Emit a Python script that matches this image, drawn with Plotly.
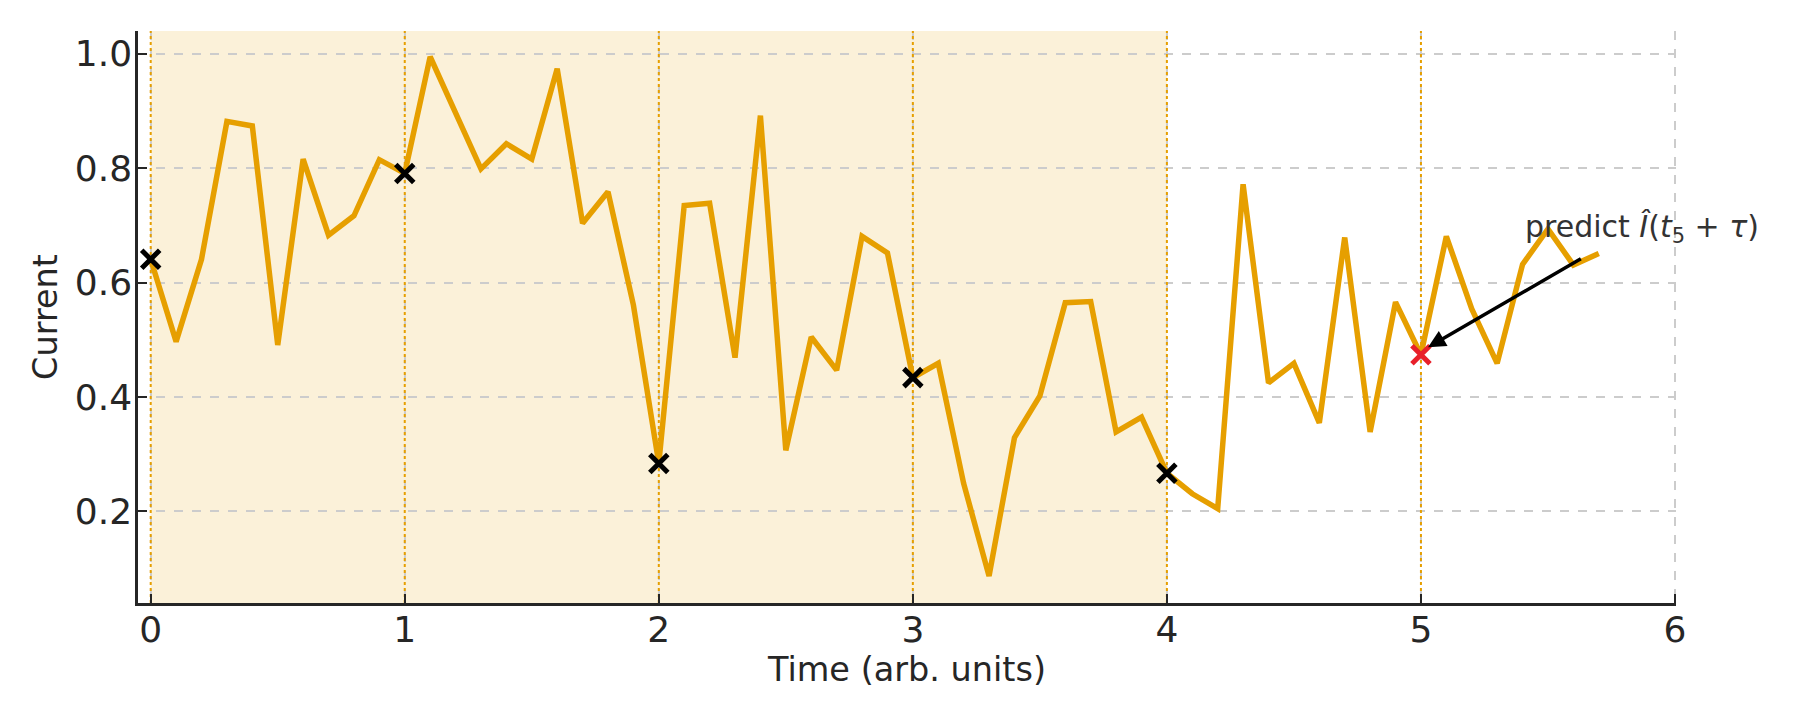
import plotly.graph_objects as go

# sampled time grid (arb. units) and measured current
time = [0.0, 0.1, 0.2, 0.3, 0.4, 0.5, 0.6, 0.7, 0.8, 0.9,
        1.0, 1.1, 1.2, 1.3, 1.4, 1.5, 1.6, 1.7, 1.8, 1.9,
        2.0, 2.1, 2.2, 2.3, 2.4, 2.5, 2.6, 2.7, 2.8, 2.9,
        3.0, 3.1, 3.2, 3.3, 3.4, 3.5, 3.6, 3.7, 3.8, 3.9,
        4.0, 4.1, 4.2, 4.3, 4.4, 4.5, 4.6, 4.7, 4.8, 4.9,
        5.0, 5.1, 5.2, 5.3, 5.4, 5.5, 5.6, 5.7]
current = [0.641, 0.497, 0.641, 0.882, 0.874, 0.491, 0.816, 0.683, 0.717, 0.815,
           0.791, 0.995, 0.897, 0.799, 0.843, 0.816, 0.974, 0.704, 0.759, 0.561,
           0.284, 0.735, 0.739, 0.469, 0.892, 0.307, 0.505, 0.447, 0.681, 0.652,
           0.434, 0.459, 0.249, 0.087, 0.329, 0.402, 0.565, 0.567, 0.339, 0.365,
           0.267, 0.231, 0.205, 0.772, 0.425, 0.459, 0.355, 0.679, 0.339, 0.566,
           0.474, 0.681, 0.554, 0.459, 0.632, 0.694, 0.631, 0.651]

# observed samples t_0..t_4 and the prediction point t_5
sample_t = [0, 1, 2, 3, 4]
sample_i = [0.641, 0.791, 0.284, 0.434, 0.267]
predict_t = [5]
predict_i = [0.474]
marker_times = [0, 1, 2, 3, 4, 5]
history_span = [0, 4]

x_ticks = [0, 1, 2, 3, 4, 5, 6]
y_ticks = [0.2, 0.4, 0.6, 0.8, 1.0]
x_range = [-0.05, 6.004]
y_range = [0.04, 1.04]

ORANGE = "#E69F00"
AXIS_COLOR = "#262626"
FONT = "DejaVu Sans"

fig = go.Figure()

# observed history window
fig.add_shape(type="rect", xref="x", yref="y domain",
              x0=history_span[0], x1=history_span[1], y0=0, y1=1,
              fillcolor="rgba(230,159,0,0.15)", line_width=0, layer="below")

# dotted markers of the sampling times
for t in marker_times:
    fig.add_trace(go.Scatter(x=[t, t], y=y_range, mode="lines",
                             line=dict(color=ORANGE, width=2, dash="dot"),
                             showlegend=False, hoverinfo="skip"))

fig.add_trace(go.Scatter(x=time, y=current, mode="lines",
                         line=dict(color=ORANGE, width=5.5),
                         showlegend=False, hoverinfo="skip"))

fig.add_trace(go.Scatter(x=sample_t, y=sample_i, mode="markers",
                         marker=dict(symbol="x-thin", size=18,
                                     line=dict(color="black", width=5)),
                         showlegend=False))

fig.add_trace(go.Scatter(x=predict_t, y=predict_i, mode="markers",
                         marker=dict(symbol="x-thin", size=18,
                                     line=dict(color="#E8202A", width=5)),
                         showlegend=False))

# arrow pointing at the prediction
fig.add_annotation(x=predict_t[0] + 0.028, y=predict_i[0] + 0.013,
                   ax=5.657, ay=0.649, axref="x", ayref="y",
                   xref="x", yref="y", text=" ", showarrow=True,
                   arrowhead=2, arrowsize=1.0, arrowwidth=3.5, arrowcolor="black")

fig.add_annotation(x=5.40, y=0.694, xref="x", yref="y",
                   xanchor="left", yanchor="middle", showarrow=False,
                   text="predict <i>Î</i>(<i>t</i><sub>5</sub> + <i>τ</i>)",
                   font=dict(family=FONT, size=30, color="#333333"))

fig.update_layout(
    width=1800,
    height=720,
    margin=dict(l=130, r=132, t=23, b=125),
    paper_bgcolor="white",
    plot_bgcolor="white",
    font=dict(family=FONT, size=35, color=AXIS_COLOR),
    showlegend=False,
    xaxis=dict(
        range=x_range,
        tickvals=x_ticks,
        ticks="inside", ticklen=9, tickwidth=2, tickcolor=AXIS_COLOR,
        showline=True, linecolor=AXIS_COLOR, linewidth=2.5,
        showgrid=True, gridcolor="#cccccc", gridwidth=1.5, griddash="dash",
        zeroline=False, ticklabelstandoff=-7,
        tickfont=dict(family=FONT, size=36, color=AXIS_COLOR),
        title=dict(text="Time (arb. units)", standoff=6,
                   font=dict(family=FONT, size=33.5, color=AXIS_COLOR)),
    ),
    yaxis=dict(
        range=y_range,
        tickvals=y_ticks, tickformat=".1f",
        ticks="inside", ticklen=9, tickwidth=2, tickcolor=AXIS_COLOR,
        showline=True, linecolor=AXIS_COLOR, linewidth=2.5,
        showgrid=True, gridcolor="#cccccc", gridwidth=1.5, griddash="dash",
        zeroline=False, ticklabelstandoff=-4,
        tickfont=dict(family=FONT, size=36, color=AXIS_COLOR),
        title=dict(text="Current", standoff=8,
                   font=dict(family=FONT, size=33.5, color=AXIS_COLOR)),
    ),
)

fig.write_html("out.html")
